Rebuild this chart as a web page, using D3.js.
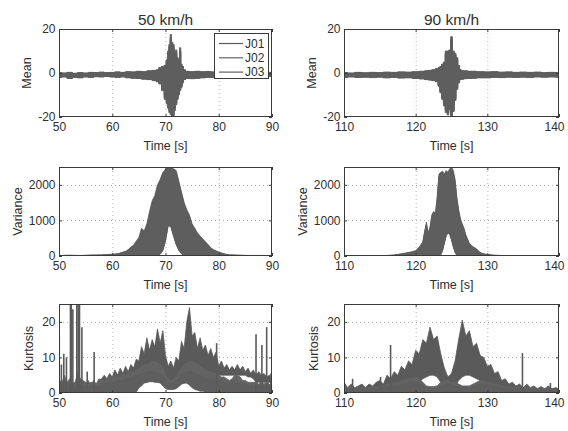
<!DOCTYPE html>
<html><head><meta charset="utf-8">
<script src="https://cdn.jsdelivr.net/npm/d3@7/dist/d3.min.js"></script>
<style>body{margin:0;background:#fff}svg{display:block}</style>
</head><body><svg id="c" width="568" height="431"></svg>
<script>
// ---------------- DATA ----------------
const seriesNames = ["J01", "J02", "J03"];
const columnTitles = ["50 km/h", "90 km/h"];
const rowLabels = ["Mean", "Variance", "Kurtosis"];
const xLabel = "Time [s]";
const xTicksLeft = [50, 60, 70, 80, 90];
const xTicksRight = [110, 120, 130, 140];
const yTicksMean = [-20, 0, 20];
const yTicksVar = [0, 1000, 2000];
const yTicksKurt = [0, 10, 20];

// Mean, 50 km/h
const tMean50 = [50,51,52,53,54,55,56,57,58,59,60,61,62,63,64,65,66,67,68,68.5,69,69.5,70,70.25,70.5,70.75,71,71.25,71.5,71.75,72,72.25,72.5,72.75,73,73.25,73.5,74,75,76,77,78,79,80,82,84,86,88,90];
const mean50HiJ01 = [0.2,0,0.3,-0.2,0.2,0,0.3,0.2,0.4,0.2,0.3,0.5,0.3,0.6,0.5,0.8,0.6,1,1.2, 1.5,2.5,3, 3.5,6,10,13,17.5,14,13,9,10.5,7,6,11.5,4,3,1.5, 0.8,0.6,0.8,0.6,0.7,0.5,0.6, 0.5,0.6,0.4,0.5,0.3];
const mean50LoJ01 = [-2,-1.8,-2.5,-2,-2.2,-1.8,-2,-1.7,-1.8,-1.6,-1.8,-2,-1.8,-2.2,-2.4,-2.5,-2.8,-3,-3.5, -4,-5,-8, -12,-14,-16,-18,-19,-20,-20,-17,-14.5,-12,-10,-8,-6.5,-4.5,-3, -2.5,-2.6,-2.4,-2.2,-2,-2,-1.8, -1.8,-1.6,-1.7,-1.5,-1.6];
const mean50HiJ02 = [0,-0.2,0.1,-0.3,0,-0.2,0.1,0,0.2,0,0.1,0.3,0.1,0.4,0.3,0.6,0.4,0.8,1, 1.2,2,2.5, 3,5,8,11,15,12,11,8,9,6,5,9,3,2.5,1, 0.5,0.4,0.6,0.4,0.5,0.3,0.4, 0.3,0.4,0.2,0.3,0.1];
const mean50LoJ02 = [-1.8,-1.6,-2.2,-1.8,-2,-1.6,-1.8,-1.5,-1.6,-1.4,-1.6,-1.8,-1.6,-2,-2.2,-2.3,-2.6,-2.8,-3.2, -3.6,-4.5,-7, -10,-12,-14,-16,-17,-18,-18,-15,-13,-11,-9,-7,-5.5,-4,-2.8, -2.3,-2.4,-2.2,-2,-1.8,-1.8,-1.6, -1.6,-1.4,-1.5,-1.3,-1.4];
const mean50HiJ03 = [0.1,-0.1,0.2,-0.1,0.1,-0.1,0.2,0.1,0.3,0.1,0.2,0.4,0.2,0.5,0.4,0.7,0.5,0.9,1.1, 1.3,2.2,2.8, 3.2,5.5,9,12,16,13,12,8.5,9.5,6.5,5.5,10,3.5,2.8,1.2, 0.6,0.5,0.7,0.5,0.6,0.4,0.5, 0.4,0.5,0.3,0.4,0.2];
const mean50LoJ03 = [-1.9,-1.7,-2.4,-1.9,-2.1,-1.7,-1.9,-1.6,-1.7,-1.5,-1.7,-1.9,-1.7,-2.1,-2.3,-2.4,-2.7,-2.9,-3.4, -3.8,-4.8,-7.5, -11,-13,-15,-17,-18,-19,-19,-16,-14,-11.5,-9.5,-7.5,-6,-4.2,-2.9, -2.4,-2.5,-2.3,-2.1,-1.9,-1.9,-1.7, -1.7,-1.5,-1.6,-1.4,-1.5];

// Mean, 90 km/h
const tMean90 = [110,111,112,113,114,115,116,117,118,119,120,121, 121.5,122,122.5, 123,123.25,123.5,123.75,124,124.25,124.5,124.75,125,125.25,125.5,125.75,126,126.25,126.5, 127,127.5,128, 129,130,131,132,133,134,135,136,137,138,139,140];
const mean90HiJ01 = [0.2,0,0.3,0.1,0.3,0.2,0.4,0.3,0.5,0.4,0.6,0.8, 1,1.2,1.5, 2,2.5,3,4,5,10,10,10.5,16.5,10,9,7,3.5,1.5,1, 1,0.8,0.8, 0.6,0.5,0.6,0.4,0.5,0.3,0.4,0.3,0.4,0.2,0.3,0.2];
const mean90LoJ01 = [-2,-1.8,-2,-1.9,-2.1,-1.9,-2.2,-2,-2.3,-2.2,-2.5,-2.7, -3,-3.2,-3.5, -4,-6,-9,-12,-15,-18,-19,-16.5,-20,-17.5,-12.5,-7.5,-4.5,-3,-2.8, -2.6,-2.5,-2.4, -2.2,-2.2,-2,-2.1,-1.9,-2,-1.9,-2,-1.8,-1.9,-1.8,-1.9];
const mean90HiJ02 = [0,-0.2,0.1,-0.1,0.1,0,0.2,0.1,0.3,0.2,0.4,0.6, 0.8,1,1.2, 1.7,2.2,2.6,3.5,4.5,8.5,9,9,14,9,8,6,3,1.2,0.8, 0.8,0.6,0.6, 0.4,0.3,0.4,0.2,0.3,0.1,0.2,0.1,0.2,0,0.1,0];
const mean90LoJ02 = [-1.8,-1.6,-1.8,-1.7,-1.9,-1.7,-2,-1.8,-2.1,-2,-2.3,-2.5, -2.8,-3,-3.2, -3.6,-5.5,-8,-11,-13.5,-16.5,-17.5,-15,-18,-16,-11,-6.5,-4,-2.8,-2.6, -2.4,-2.3,-2.2, -2,-2,-1.8,-1.9,-1.7,-1.8,-1.7,-1.8,-1.6,-1.7,-1.6,-1.7];
const mean90HiJ03 = [0.1,-0.1,0.2,0,0.2,0.1,0.3,0.2,0.4,0.3,0.5,0.7, 0.9,1.1,1.4, 1.8,2.3,2.8,3.8,4.8,9,9.5,10,15,9.5,8.5,6.5,3.2,1.3,0.9, 0.9,0.7,0.7, 0.5,0.4,0.5,0.3,0.4,0.2,0.3,0.2,0.3,0.1,0.2,0.1];
const mean90LoJ03 = [-1.9,-1.7,-1.9,-1.8,-2,-1.8,-2.1,-1.9,-2.2,-2.1,-2.4,-2.6, -2.9,-3.1,-3.4, -3.8,-5.8,-8.5,-11.5,-14,-17,-18,-16,-19,-17,-12,-7,-4.2,-2.9,-2.7, -2.5,-2.4,-2.3, -2.1,-2.1,-1.9,-2,-1.8,-1.9,-1.8,-1.9,-1.7,-1.8,-1.7,-1.8];

// Variance, 50 km/h
const tVar50 = [50,52,54,56,58,59,60,61,62, 62.5,63,63.5,64,64.5,65,65.5,66,66.5,67,67.5,68,68.5,69,69.5,70,70.5,71,71.5,72,72.5,73,73.5,74,74.5,75,75.5,76,76.5,77,77.5,78,78.5,79, 80,81,82,84,86,88,90];
const var50HiJ01 = [15,20,15,25,30,40,50,60,110, 130,180,250,300,420,520,780,700,900,1250,1550,1700,2000,2150,2350,2420,2480,2500,2450,2400,2100,1800,1500,1300,1150,900,780,650,560,480,400,320,230,180, 110,60,30,20,15,15,10];
const var50LoJ01 = [0,0,0,0,0,0,0,0,0, 0,0,0,0,0,0,0,0,0,0,0,0,0,50,150,420,850,820,560,320,160,60,10,0,0,0,0,0,0,0,0,0,0,0, 0,0,0,0,0,0,0];
const var50HiJ02 = [10,15,10,18,22,30,40,50,90, 110,150,200,260,360,450,600,650,800,1100,1350,1550,1800,2000,2200,2350,2400,2420,2380,2300,2000,1700,1400,1200,1000,820,700,580,500,420,350,280,200,150, 90,50,25,15,10,10,8];
const var50LoJ02 = [0,0,0,0,0,0,0,0,0, 0,0,0,0,0,0,0,0,0,0,0,0,0,80,200,480,900,880,600,360,190,80,20,0,0,0,0,0,0,0,0,0,0,0, 0,0,0,0,0,0,0];
const var50HiJ03 = [12,18,12,20,25,35,45,55,100, 120,160,220,280,380,480,680,680,850,1150,1450,1600,1900,2100,2300,2450,2460,2480,2420,2350,2050,1750,1450,1250,1080,860,740,620,530,450,370,300,210,160, 100,55,28,18,12,12,9];
const var50LoJ03 = [0,0,0,0,0,0,0,0,0, 0,0,0,0,0,0,0,0,0,0,0,0,0,60,170,440,860,840,580,340,170,70,15,0,0,0,0,0,0,0,0,0,0,0, 0,0,0,0,0,0,0];

// Variance, 90 km/h
const tVar90 = [110,112,114,115,116,117,118,119, 119.5,120,120.5, 121,121.25,121.5,121.75,122,122.25,122.5,122.75,123,123.25,123.5,123.75,124,124.25,124.5,124.75,125,125.25,125.5,125.75,126,126.25,126.5,126.75,127, 127.5,128,128.5,129,129.5,130, 131,132,134,136,138,140];
const var90HiJ01 = [5,5,8,10,15,25,60,100, 120,150,250, 400,700,950,650,800,1150,1250,1200,1650,2300,2350,2380,2300,2400,2350,2450,2500,2400,2150,1650,1300,1050,900,780,600, 350,260,200,100,60,40, 20,15,10,8,5,5];
const var90LoJ01 = [0,0,0,0,0,0,0,0, 0,0,0, 0,0,0,0,0,0,0,0,0,0,30,150,350,550,650,600,450,250,100,20,0,0,0,0,0, 0,0,0,0,0,0, 0,0,0,0,0,0];
const var90HiJ02 = [3,4,6,8,12,20,50,85, 100,130,220, 350,600,800,600,750,1050,1150,1100,1500,2150,2250,2300,2200,2300,2250,2350,2400,2300,2000,1500,1200,950,820,700,530, 300,220,170,80,50,30, 15,10,8,6,4,4];
const var90LoJ02 = [0,0,0,0,0,0,0,0, 0,0,0, 0,0,0,0,0,0,0,0,0,0,50,180,400,600,700,650,500,300,120,30,0,0,0,0,0, 0,0,0,0,0,0, 0,0,0,0,0,0];
const var90HiJ03 = [4,4,7,9,13,22,55,90, 110,140,230, 380,650,880,620,780,1100,1200,1150,1580,2250,2300,2330,2250,2350,2300,2400,2450,2350,2080,1580,1250,1000,860,740,560, 320,240,180,90,55,35, 18,12,9,7,5,4];
const var90LoJ03 = [0,0,0,0,0,0,0,0, 0,0,0, 0,0,0,0,0,0,0,0,0,0,40,160,370,570,670,620,470,270,110,25,0,0,0,0,0, 0,0,0,0,0,0, 0,0,0,0,0,0];

// Kurtosis, 50 km/h  (samples every 0.5 s from 50 to 90)
const tKurt50 = [50,50.5,51,51.5,52,52.5,53,53.5,54,54.5,55,55.5,56,56.5,57,57.5,58,58.5,59,59.5,60,60.5,61,61.5,62,62.5,63,63.5,64,64.5,65,65.5,66,66.5,67,67.5,68,68.5,69,69.5,70,70.5,71,71.5,72,72.5,73,73.5,74,74.5,75,75.5,76,76.5,77,77.5,78,78.5,79,79.5,80,80.5,81,81.5,82,82.5,83,83.5,84,84.5,85,85.5,86,86.5,87,87.5,88,88.5,89,89.5,90];
const kurt50HiJ01 = [4,2.5,4,2,3,2.5,3,4,2.5,3, 2.5,3.5,2,3.5,2.5,3.5,4,5,4,5.5, 4.5,6.5,5,7,5.5,7.5,6,8,7,9.5, 9,13,11,15.5,12,15,13,18,14,17.5, 10.5,7.5,9,7,10,9,14.5,12.5,20,24, 16,17,12.5,15.5,12,13.5,10.5,12.5,10,11.5, 7.5,9,7,8,6.5,7.5,6.5,8,6.5,7.5, 6,7,5.5,6.5,5,6,5,5.5,4.5,5, 4];
const kurt50LoJ01 = [0.5,0.5,0.5,0.5,0.5,0.5,0.5,0.5,0.5,0.5, 0.5,0.5,0.5,0.5,0.5,0.5,0.5,0.8,1,1, 1.2,1.2,1.5,1.5,1.8,2,2,2.5,2.5,3, 3,3,3,3.5,3.5,4,4,4,3.5,3, 2,1.5,1.5,1.5,2,2.5,3,3.5,3.5,3, 3,3.5,3.5,4,4,4.5,4.5,5,5,5, 5,5,5,5,5,5,5,5,5,5, 5,4.5,4.5,4,3,3,3,3,3,3, 3];
const kurt50HiJ02 = [3,2.5,5,3,4,3,2.5,6,4,3.5, 3,2.5,3,3,2.5,4,3.5,3.5,4,4.5, 4.5,5,4.5,5,5.5,5,5.5,6,6,6.5, 7,7.5,8,8,8.5,9,9,8.5,8,7.5, 5,4,3.5,4,4.5,6,7,8,8.5,9, 9,8.5,8,7.5,7,6.5,6,6,5.5,5.5, 5,4.5,4.5,4,3.5,4,5,5,4.5,3.5, 3.5,3,3,3,3,2.5,3,2.5,3,2.5, 2.5];
const kurt50LoJ02 = [0.3,0.3,0.3,0.3,0.3,0.3,0.3,0.3,0.3,0.3, 0.3,0.3,0.3,0.3,0.3,0.3,0.3,0.3,0.3,0.3, 0.5,0.5,0.5,0.8,0.8,1,1,1.2,1.5,1.8, 2,2.5,3,3,3.2,3.2,3.2,3,3,2.5, 1.5,1.2,1.2,1.2,1.5,2,2.5,2.8,2.8,2.5, 2,1.5,1.2,1,1,0.8,0.8,0.8,0.5,0.5, 0.5,0.5,0.5,0.5,0.5,0.5,0.5,0.5,0.5,0.5, 0.5,0.5,0.5,0.5,0.5,0.5,0.5,0.5,0.5,0.5, 0.5];
const kurt50HiJ03 = [2,1.5,2,1.5,2.5,2,1.5,2,2.5,2, 2,1.5,2,2,1.5,2,2.5,2.5,3,3, 3,3,3.5,3.5,3.5,4,4,4.5,4.5,5, 5,5.5,5.5,6,6,6,6,5.5,5.5,5, 3.5,3,2.5,3,3.5,4,5,5.5,6,6, 6,5.5,5,5,4.5,4.5,4,4,4,3.5, 3.5,3,3,2.5,2.5,3,3,3,2.5,2.5, 2.5,2,2,2,2,2,2,2,2,2, 2];
const kurt50LoJ03 = [0.2,0.2,0.2,0.2,0.2,0.2,0.2,0.2,0.2,0.2, 0.2,0.2,0.2,0.2,0.2,0.2,0.2,0.2,0.2,0.2, 0.2,0.2,0.2,0.2,0.2,0.2,0.2,0.2,0.2,0.2, 1.5,2,2.8,3,3.2,3.2,3,3,2.8,2, 1.2,1,1,1,1.2,1.8,2.5,2.8,2.8,2.2, 1.5,1,0.8,0.5,0.5,0.3,0.3,0.3,0.2,0.2, 0.2,0.2,0.2,0.2,0.2,0.2,0.2,0.2,0.2,0.2, 0.2,0.2,0.2,0.2,0.2,0.2,0.2,0.2,0.2,0.2, 0.2];
// isolated spikes (J01), 50 km/h
const kurt50SpikeT = [50.05,50.45,50.9,51.4,52.15,52.3,52.6,53.35,53.6,53.85,54.3,55.3,56.6,79.6,87.0,88.1,89.0,89.8];
const kurt50SpikeV = [16,8,11,10,27,27,23.5,27,27,27,18.5,6,11.5,14,16.5,13.5,18.5,5.5];

// Kurtosis, 90 km/h  (samples every 0.5 s from 110 to 140)
const tKurt90 = [110,110.5,111,111.5,112,112.5,113,113.5,114,114.5,115,115.5,116,116.5,117,117.5,118,118.5,119,119.5,120,120.5,121,121.5,122,122.5,123,123.5,124,124.5,125,125.5,126,126.5,127,127.5,128,128.5,129,129.5,130,130.5,131,131.5,132,132.5,133,133.5,134,134.5,135,135.5,136,136.5,137,137.5,138,138.5,139,139.5,140];
const kurt90HiJ01 = [3,1.5,2.5,1.5,2,2.5,1.5,2.5,2,3, 3.5,2.5,5,4,6,5,7.5,6.5,9,8, 12,11,15,14,18.5,15,16,11,7,4.5, 5.5,9,15,20.5,16,17.5,13,14,10.5,10, 7.5,8,5.5,6,3.5,4,2.5,3,2,2.5, 1.5,2.5,1.5,2,1.2,1.8,1.2,2,1.2,1.5, 1.2];
const kurt90LoJ01 = [0.5,0.5,0.5,0.5,0.5,0.5,0.5,0.5,0.5,0.5, 0.5,0.5,0.8,1,1,1.2,1.5,1.5,2,2, 2.5,3,4,4.5,5,5,4.5,3,2,1.5, 1.5,2,3.5,4.5,5,5,4.5,4,3.5,3, 2.5,2,1.5,1.2,1,1,0.8,0.8,0.8,0.5, 0.5,0.5,0.5,0.5,0.5,0.5,0.5,0.5,0.5,0.5, 0.5];
const kurt90HiJ02 = [1.5,1.2,1.8,1.2,1.5,1.5,1.2,1.5,1.8,1.5, 2,2,2.5,2.5,3,3,3.5,3.5,4,4, 4.5,4,3,2,1.8,1.8,2,3,3.5,3.5, 3,3,2.5,2,2,2,2.5,3,3.5,3.5, 3,3,2.5,2.5,2,2,1.8,1.8,1.5,1.5, 1.5,1.5,1.2,1.2,1.2,1.2,1.2,1.5,1.2,1, 1];
const kurt90LoJ02 = [0.3,0.3,0.3,0.3,0.3,0.3,0.3,0.3,0.3,0.3, 0.3,0.3,0.3,0.3,0.3,0.3,0.3,0.3,0.3,0.3, 0.3,0.3,0.3,0.3,0.3,0.3,0.3,0.3,0.3,0.3, 0.3,0.3,0.3,0.3,0.3,0.3,0.3,0.3,0.3,0.3, 0.3,0.3,0.3,0.3,0.3,0.3,0.3,0.3,0.3,0.3, 0.3,0.3,0.3,0.3,0.3,0.3,0.3,0.3,0.3,0.3, 0.3];
const kurt90HiJ03 = [1,0.8,1.2,0.8,1,1,0.8,1,1.2,1, 1.5,1.5,1.8,1.8,2,2,2.5,2.5,3,3, 3,3,2,1.5,1.2,1.2,1.5,2,2.5,2.5, 2.5,2,1.8,1.5,1.5,1.5,1.8,2,2.5,2.5, 2.5,2,2,1.8,1.5,1.5,1.2,1.2,1,1, 1,1,0.8,0.8,0.8,0.8,0.8,1,0.8,0.8, 0.8];
const kurt90LoJ03 = [0.2,0.2,0.2,0.2,0.2,0.2,0.2,0.2,0.2,0.2, 0.2,0.2,0.2,0.2,0.2,0.2,0.2,0.2,0.2,0.2, 0.2,0.2,0.2,0.2,0.2,0.2,0.2,0.2,0.2,0.2, 0.2,0.2,0.2,0.2,0.2,0.2,0.2,0.2,0.2,0.2, 0.2,0.2,0.2,0.2,0.2,0.2,0.2,0.2,0.2,0.2, 0.2,0.2,0.2,0.2,0.2,0.2,0.2,0.2,0.2,0.2, 0.2];
// isolated spikes (J01), 90 km/h
const kurt90SpikeT = [111.2,115.1,116.5,134.9,138.8];
const kurt90SpikeV = [4,4.5,13.5,11.2,2.8];

// ---------------- PANELS ----------------
const panels = [
  {col:0,row:0,t:tMean50,hi:[mean50HiJ01,mean50HiJ02,mean50HiJ03],lo:[mean50LoJ01,mean50LoJ02,mean50LoJ03],xd:[50,90],xt:xTicksLeft,yd:[-20,20],yt:yTicksMean,step:true,legend:true},
  {col:1,row:0,t:tMean90,hi:[mean90HiJ01,mean90HiJ02,mean90HiJ03],lo:[mean90LoJ01,mean90LoJ02,mean90LoJ03],xd:[110,140],xt:xTicksRight,yd:[-20,20],yt:yTicksMean,step:true},
  {col:0,row:1,t:tVar50,hi:[var50HiJ01,var50HiJ02,var50HiJ03],lo:[var50LoJ01,var50LoJ02,var50LoJ03],xd:[50,90],xt:xTicksLeft,yd:[0,2500],yt:yTicksVar,step:false},
  {col:1,row:1,t:tVar90,hi:[var90HiJ01,var90HiJ02,var90HiJ03],lo:[var90LoJ01,var90LoJ02,var90LoJ03],xd:[110,140],xt:xTicksRight,yd:[0,2500],yt:yTicksVar,step:false},
  {col:0,row:2,t:tKurt50,hi:[kurt50HiJ01,kurt50HiJ02,kurt50HiJ03],lo:[kurt50LoJ01,kurt50LoJ02,kurt50LoJ03],xd:[50,90],xt:xTicksLeft,yd:[0,25],yt:yTicksKurt,step:false,spT:kurt50SpikeT,spV:kurt50SpikeV},
  {col:1,row:2,t:tKurt90,hi:[kurt90HiJ01,kurt90HiJ02,kurt90HiJ03],lo:[kurt90LoJ01,kurt90LoJ02,kurt90LoJ03],xd:[110,140],xt:xTicksRight,yd:[0,25],yt:yTicksKurt,step:false,spT:kurt90SpikeT,spV:kurt90SpikeV}
];
panels.forEach((p,i)=>{
  p.hi.concat(p.lo).forEach((a,k)=>{ if(a.length!==p.t.length) throw new Error("panel "+i+" array "+k+" length "+a.length+" vs "+p.t.length); });
});

// ---------------- DRAW ----------------
const FONT = '"Liberation Sans", Arial, Helvetica, sans-serif';
const TXT = "#2f2f2f", AX = "#3a3a3a", GRID = "#b5b5b5";
const colors = ["#5a5a5a", "#636363", "#5e5e5e"];
const cols = [[59,272],[344,559]];
const rows = [[29,117],[167,256],[304,393]];
const ylabOff = [28, 37, 26];
const svg = d3.select("#c");
svg.append("rect").attr("width",568).attr("height",431).attr("fill","#fff");

panels.forEach((p,pi)=>{
  const [x0,x1] = cols[p.col], [y0,y1] = rows[p.row];
  const x = d3.scaleLinear().domain(p.xd).range([x0,x1]);
  const y = d3.scaleLinear().domain(p.yd).range([y1,y0]);
  const g = svg.append("g");
  const cid = "clip"+pi;
  svg.append("clipPath").attr("id",cid).append("rect")
    .attr("x",x0).attr("y",y0).attr("width",x1-x0).attr("height",y1-y0);

  // grid
  g.append("g").selectAll("line").data(p.xt.slice(1,-1)).join("line")
    .attr("x1",d=>x(d)+0.5).attr("x2",d=>x(d)+0.5).attr("y1",y0).attr("y2",y1)
    .attr("stroke",GRID).attr("stroke-width",1).attr("stroke-dasharray","1,3");
  g.append("g").selectAll("line").data(p.yt.filter(v=>v!==p.yd[0]&&v!==p.yd[1])).join("line")
    .attr("y1",d=>Math.round(y(d))+0.5).attr("y2",d=>Math.round(y(d))+0.5).attr("x1",x0).attr("x2",x1)
    .attr("stroke",GRID).attr("stroke-width",1).attr("stroke-dasharray","1,3");

  // data
  const dg = g.append("g").attr("clip-path","url(#"+cid+")");
  [0,1,2].forEach(s=>{
    const rowsData = p.t.map((t,k)=>({t, lo:p.lo[s][k], hi:p.hi[s][k]}));
    const area = d3.area().x(d=>x(d.t)).y0(d=>y(d.lo)).y1(d=>y(d.hi))
      .curve(p.step ? d3.curveStep : d3.curveLinear);
    dg.append("path").datum(rowsData).attr("d",area)
      .attr("fill",colors[s]).attr("stroke",colors[s]).attr("stroke-width",0.8)
      .attr("stroke-linejoin","miter");
  });
  if(p.spT){
    dg.append("g").selectAll("line").data(p.spT.map((t,k)=>({t,v:p.spV[k]}))).join("line")
      .attr("x1",d=>x(d.t)).attr("x2",d=>x(d.t)).attr("y1",y(0)).attr("y2",d=>y(d.v))
      .attr("stroke",colors[0]).attr("stroke-width",1.6);
  }

  // axes
  const fmt = d3.format("d");
  const ax = g.append("g").attr("transform",`translate(0,${y1})`)
    .call(d3.axisBottom(x).tickValues(p.xt).tickFormat(fmt).tickSize(-3).tickPadding(5.5));
  const axT = g.append("g").attr("transform",`translate(0,${y0})`)
    .call(d3.axisTop(x).tickValues(p.xt).tickFormat("").tickSize(-3));
  const ay = g.append("g").attr("transform",`translate(${x0},0)`)
    .call(d3.axisLeft(y).tickValues(p.yt).tickFormat(v=>String(v)).tickSize(-3).tickPadding(3.5));
  const ayR = g.append("g").attr("transform",`translate(${x1},0)`)
    .call(d3.axisRight(y).tickValues(p.yt).tickFormat("").tickSize(-3));
  [ax,axT,ay,ayR].forEach(a=>{
    a.select(".domain").remove();
    a.selectAll(".tick line").attr("stroke",AX);
    a.selectAll("text").attr("fill",TXT).style("font-family",FONT).style("font-size","12px");
  });
  // the last label of the right column sits pulled in from the figure edge
  if(p.col===1){
    ax.selectAll(".tick text").filter(d=>d===p.xd[1]).attr("x",-5);
  }
  g.append("rect").attr("x",x0+0.5).attr("y",y0+0.5).attr("width",x1-x0-1).attr("height",y1-y0-1)
    .attr("fill","none").attr("stroke",AX).attr("stroke-width",1);

  // labels
  g.append("text").attr("x",(x0+x1)/2).attr("y",y1+33).attr("text-anchor","middle")
    .attr("fill",TXT).style("font-family",FONT).style("font-size","12.5px").text(xLabel);
  g.append("text").attr("transform",`translate(${x0-ylabOff[p.row]},${(y0+y1)/2}) rotate(-90)`)
    .attr("text-anchor","middle").attr("fill",TXT).style("font-family",FONT).style("font-size","12.5px")
    .text(rowLabels[p.row]);
  if(p.row===0){
    g.append("text").attr("x",(x0+x1)/2).attr("y",25).attr("text-anchor","middle")
      .attr("fill",TXT).style("font-family",FONT).style("font-size","15.5px").text(columnTitles[p.col]);
  }

  // legend
  if(p.legend){
    const lg = g.append("g");
    lg.append("rect").attr("x",214.5).attr("y",33.5).attr("width",54).attr("height",45)
      .attr("fill","#fff").attr("stroke",AX).attr("stroke-width",1);
    seriesNames.forEach((n,k)=>{
      const yy = 43.5 + k*14.3;
      lg.append("line").attr("x1",219).attr("x2",243).attr("y1",yy).attr("y2",yy)
        .attr("stroke",colors[k]).attr("stroke-width",1.2);
      lg.append("text").attr("x",245).attr("y",yy+4.3).attr("fill",TXT)
        .style("font-family",FONT).style("font-size","12px").text(n);
    });
  }
});
</script>
</body></html>
